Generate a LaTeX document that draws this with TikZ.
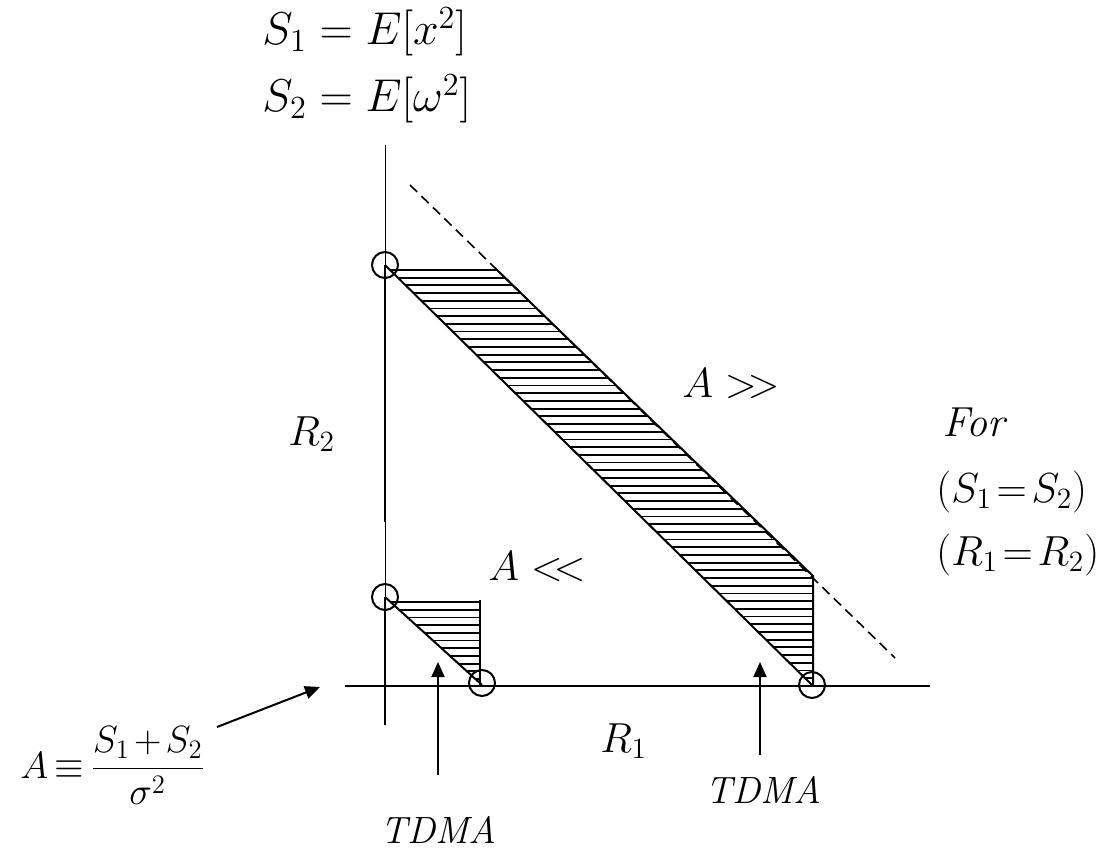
\RequirePackage{fix-cm}
\documentclass[tikz,border=0pt]{standalone}
\usepackage{amsmath,amssymb}
\usepackage{tikz}
\usetikzlibrary{arrows.meta, positioning}

\tikzset{
  lbl/.style={font=\fontsize{21}{25}\selectfont, inner sep=0pt, anchor=base west},
  toplbl/.style={lbl, font=\fontsize{23}{27}\selectfont},
  word/.style={font=\fontsize{19}{23}\selectfont, inner sep=0pt, anchor=base west},
  ring/.style={circle, draw, line width=1pt, minimum size=13pt, inner sep=0pt},
  hatch/.style={line width=0.9pt},
  edge/.style={line width=1pt},
  uparrow/.style={line width=1pt, -{Triangle[length=7.5pt,width=6.5pt]}},
}

\begin{document}
\begin{tikzpicture}[x=0.5pt,y=-0.5pt]
\useasboundingbox (0,0) rectangle (1106,849);

% Axes
\draw[line width=0.5pt] (385,145) -- (385,725);
\draw[edge] (385,265) -- (385,522);
\draw[edge] (385,597) -- (385,725);
\draw[edge] (345,686) -- (930,686);

% Large region (A >>)
\begin{scope}
  \clip (385,265) -- (492,265) -- (497,270) -- (813,576) -- (813,686) -- (812,685) -- cycle;
  \foreach \y in {270,277.7,...,686} {
    \draw[hatch] (380,\y) -- (820,\y);
  }
\end{scope}
\draw[edge] (385,265) -- (812,685);
\draw[edge] (497,270) -- (813,576) -- (813,686);
\draw[line width=0.8pt, dash pattern=on 5pt off 3pt] (410,185) -- (895,658);

% Small region (A <<)
\begin{scope}
  \clip (385,597) -- (480,597) -- (480,686) -- (482,685) -- cycle;
  \foreach \y in {602,609.7,...,686} {
    \draw[hatch] (380,\y) -- (490,\y);
  }
\end{scope}
\draw[edge] (385,597) -- (482,685);
\draw[line width=0.75pt] (480,600) -- (480,686);

% End points
\node[ring] (ptop) at (385,265) {};
\node[ring] (plow) at (385,597) {};
\node[ring] (qlow) at (482,683) {};
\node[ring] (qtop) at (812,685) {};

% Labels
\node[toplbl] (sone) at (262,45) {$S_1 = E[x^2]$};
\node[toplbl] (stwo) at (262,112) {$S_2 = E[\omega^2]$};
\node[lbl] (rtwo) at (288,445) {$R_2$};
\node[lbl] (amuch) at (682,397) {$A \mathrel{>\mkern-4mu>}$};
\node[lbl] (aless) at (488,580) {$A \mathrel{<\mkern-4mu<}$};
\node[lbl] (rone) at (600,752) {$R_1$};
\node[word] (tdmaR) at (705,803) {$\mathit{TDMA}$};
\node[word] (tdmaL) at (380,843) {$\mathit{TDMA}$};
\node[lbl] (forlbl) at (942,437) {$\mathit{For}$};
\node[lbl] (scond) at (936,502) {$(S_1 \!=\! S_2)$};
\node[lbl] (rcond) at (936,565) {$(R_1 \!=\! R_2)$};
\node[lbl, font=\fontsize{19}{23}\selectfont] (adef) at (20,778)
  {$A \mkern3mu{\equiv}\mkern3mu \dfrac{S_1 \mkern2mu{+}\mkern2mu S_2}{\sigma^2}$};

% Arrows
\coordinate (tailL) at (438,775);
\coordinate (tipL) at (438,662);
\coordinate (tailR) at (760,755);
\coordinate (tipR) at (760,662);
\coordinate (tailA) at (217,727);
\coordinate (tipA) at (320,687);
\draw[uparrow] (tailL) -- (tipL);
\draw[uparrow] (tailR) -- (tipR);
\draw[uparrow] (tailA) -- (tipA);
\end{tikzpicture}
\end{document}
